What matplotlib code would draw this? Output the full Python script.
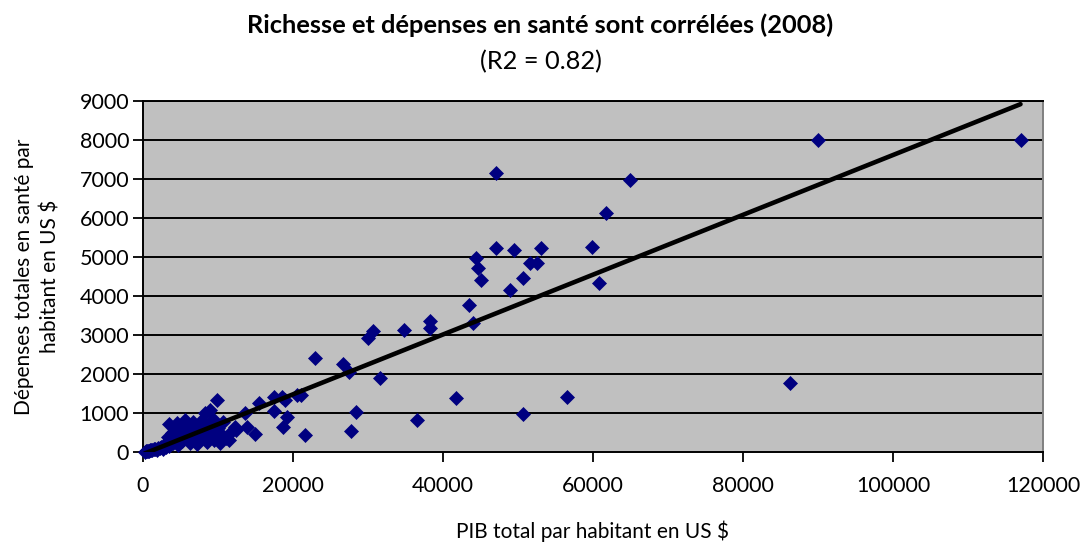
"""Richesse et dépenses en santé (2008) - nuage de points avec droite de tendance."""

import matplotlib
matplotlib.use("Agg")
import matplotlib.pyplot as plt

plt.rcParams["font.family"] = ["Lato", "DejaVu Sans"]

# PIB par habitant (US $) et dépenses de santé par habitant (US $)
PIB = [
    200, 350, 500, 650, 800, 950, 1100, 1250, 1400, 1600, 1800, 2000, 2200,
    2400, 2600, 2800, 3000, 3200, 3300, 3400, 3500, 3700, 3900, 4000, 4200,
    4300, 4500, 4600, 4800, 5000, 5200, 5400, 5600, 5800, 6000, 6200, 6400,
    6600, 6800, 7000, 7200, 7400, 7700, 7900, 8100, 8300, 8500, 8700, 8900,
    9100, 9300, 9500, 9800, 10000, 10200, 10400, 10700, 11000, 11400, 11700,
    12200, 12400,
    13600, 13800, 14900, 15400, 17400, 17400, 18500, 18900, 19200, 18700,
    20500, 21000, 21600, 22900, 26700, 27500, 28400, 27700, 30600, 30000,
    31600, 34800, 36500, 38200, 38200, 41700, 43400, 44000, 44400, 44600,
    45000, 47000, 47000, 49400, 48900, 50700, 50600, 51600, 52500, 53000,
    56500, 59900, 60800, 61700, 64900, 86300, 90000, 117000,
]
DEPENSES = [
    12, 18, 25, 30, 35, 45, 50, 40, 65, 80, 60, 110, 90,
    140, 70, 170, 120, 210, 390, 730, 160, 280, 480, 220, 620,
    340, 750, 180, 420, 560, 280, 700, 810, 380, 520, 230, 640,
    780, 330, 480, 210, 600, 800, 380, 560, 990, 250, 700, 1080,
    450, 850, 300, 1330, 620, 240, 470, 760, 350, 310, 520,
    650, 560,
    990, 650, 450, 1250, 1420, 1060, 1420, 1330, 900, 650,
    1460, 1460, 440, 2420, 2250, 2060, 1020, 530, 3100, 2920,
    1890, 3130, 820, 3370, 3170, 1380, 3770, 3320, 4970, 4710,
    4410, 7150, 5220, 5180, 4150, 4450, 970, 4840, 4840, 5220,
    1420, 5250, 4330, 6120, 6970, 1770, 8000, 8000,
]

# droite de tendance linéaire (R2 = 0.82)
TREND_SLOPE = 0.0767
TREND_INTERCEPT = -55

X_TICKS = [0, 20000, 40000, 60000, 80000, 100000, 120000]
Y_TICKS = [0, 1000, 2000, 3000, 4000, 5000, 6000, 7000, 8000, 9000]

TITLE = "Richesse et dépenses en santé sont corrélées (2008)"
SUBTITLE = "(R2 = 0.82)"
XLABEL = "PIB total par habitant en US $"
YLABEL = "Dépenses totales en santé par\nhabitant en US $"

fig = plt.figure(figsize=(10.81, 5.48), dpi=100)
ax = fig.add_axes([143 / 1081, 96 / 548, 900 / 1081, 351 / 548])
ax.set_facecolor("#C0C0C0")

for y in Y_TICKS[1:]:
    ax.axhline(y, color="black", linewidth=1.4, zorder=1)

ax.plot(PIB, DEPENSES, linestyle="none", marker="D", markersize=7.3,
        markerfacecolor="#000080", markeredgecolor="#000080",
        markeredgewidth=0.5, zorder=3, clip_on=False)

x0, x1 = min(PIB), max(PIB)
ax.plot([x0, x1], [TREND_SLOPE * x0 + TREND_INTERCEPT,
                   TREND_SLOPE * x1 + TREND_INTERCEPT],
        color="black", linewidth=3.3, solid_capstyle="round", zorder=4)

ax.set_xlim(0, 120000)
ax.set_ylim(0, 9000)
ax.set_xticks(X_TICKS)
ax.set_yticks(Y_TICKS)
ax.tick_params(direction="out", length=7, width=1.3, color="black",
               labelsize=15.5, pad=3)
ax.tick_params(axis="x", pad=10)

for side in ("left", "bottom", "top"):
    ax.spines[side].set_color("black")
    ax.spines[side].set_linewidth(1.4)
ax.spines["right"].set_color("#808080")
ax.spines["right"].set_linewidth(1.4)

ax.set_xlabel(XLABEL, fontsize=15, labelpad=18)
ax.set_ylabel(YLABEL, fontsize=15, labelpad=14, linespacing=1.4)

fig.text(0.5, 1 - 25 / 548, TITLE, ha="center", va="center",
         fontsize=18.3, fontweight="bold")
fig.text(0.5, 1 - 62 / 548, SUBTITLE, ha="center", va="center",
         fontsize=18.3)

fig.savefig("out.png", dpi=100)
plt.close(fig)
